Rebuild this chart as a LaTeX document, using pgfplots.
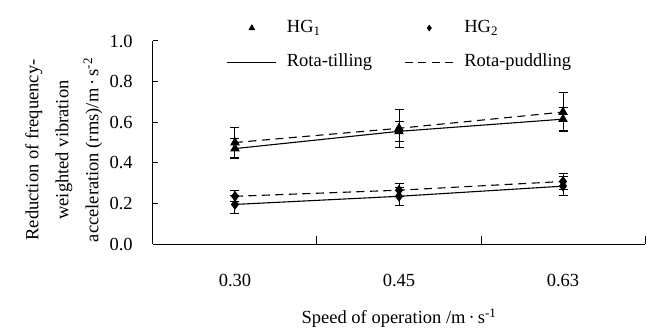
\documentclass[border=0pt]{standalone}
\usepackage{fontspec}
\setmainfont{Liberation Serif}
\usepackage{pgfplots}
\pgfplotsset{compat=1.18}
\pgfplotsset{
  markleg/.style={legend image code/.code={\path[draw=none] (0bp,0bp) -- (49bp,0bp); \draw[##1,only marks] plot coordinates {(24.5bp,0bp)};}},
  lineleg/.style={legend image code/.code={\draw[##1] (0bp,0bp) -- (49bp,0bp);}},
}
\begin{document}
\fontsize{18.5bp}{22bp}\selectfont
\begin{tikzpicture}
\begin{axis}[
  scale only axis, width=492bp, height=203bp,
  xmin=0, xmax=3, ymin=0, ymax=1,
  axis x line*=bottom, axis y line*=left,
  axis line style={black, line width=1bp},
  xtick={0.5,1.5,2.5}, xticklabels={0.30,0.45,0.63},
  minor xtick={1,2,3},
  major x tick style={draw=none},
  minor x tick style={black, line width=1bp},
  major y tick style={black, line width=1bp},
  tick align=inside,
  major tick length=5bp, minor tick length=8bp,
  ytick={0,0.2,0.4,0.6,0.8,1.0},
  /pgf/number format/assume math mode=true,
  y tick label style={/pgf/number format/fixed, /pgf/number format/fixed zerofill, /pgf/number format/precision=1, xshift=-14bp},
  x tick label style={yshift=-24bp},
  tick label style={font=\fontsize{18.5bp}{22bp}\selectfont},
  xlabel={Speed of operation /m\,·\,s\textsuperscript{-1}},
  xlabel style={at={(axis description cs:0.5,-0.3645)}, anchor=center, font=\fontsize{18.5bp}{22bp}\selectfont},
  ylabel={Reduction of frequency-\\weighted vibration\\acceleration (rms)/m\,·\,s\textsuperscript{-2}},
  ylabel style={at={(axis description cs:-0.181,0.463)}, anchor=center, align=center, font=\fontsize{18.5bp}{30bp}\selectfont},
  legend columns=2,
  legend style={at={(axis description cs:0.5,0.98)}, anchor=center, draw=none, fill=none, inner sep=0pt,
    column sep=10bp, row sep=19bp, font=\fontsize{18.5bp}{22bp}\selectfont,
    nodes={inner sep=0pt, text height=12bp, text depth=3bp}},
  legend cell align=left,
]
\addlegendimage{black, mark=triangle*, mark size=3.5bp, markleg}
\addlegendentry{HG\textsubscript{1}}
\addlegendimage{black, mark=diamond*, mark size=3bp, markleg}
\addlegendentry{HG\textsubscript{2}}
\addlegendimage{black, line width=1.1bp, lineleg}
\addlegendentry{Rota-tilling\rule{22bp}{0pt}}
\addlegendimage{black, line width=1.1bp, dash pattern=on 8bp off 5.5bp, lineleg}
\addlegendentry{Rota-puddling}

% HG1 Rota-tilling
\addplot[forget plot, black, line width=1.1bp, mark=triangle*, mark size=4.5bp, mark options={solid},
  error bars/.cd, y dir=both, y explicit, error bar style={line width=1bp, solid},
  error mark options={rotate=90, mark size=4.5bp, line width=1bp, solid}]
  coordinates {(0.5,0.47) +- (0,0.05) (1.5,0.555) +- (0,0.05) (2.5,0.615) +- (0,0.057)};
% HG1 Rota-puddling
\addplot[forget plot, black, line width=1.1bp, dash pattern=on 8bp off 5.5bp, mark=triangle*, mark size=4.5bp, mark options={solid},
  error bars/.cd, y dir=both, y explicit, error bar style={line width=1bp, solid},
  error mark options={rotate=90, mark size=4.5bp, line width=1bp, solid}]
  coordinates {(0.5,0.50) +- (0,0.075) (1.5,0.57) +- (0,0.093) (2.5,0.65) +- (0,0.095)};
% HG2 Rota-tilling
\addplot[forget plot, black, line width=1.1bp, mark=diamond*, mark size=4.5bp, mark options={solid},
  error bars/.cd, y dir=both, y explicit, error bar style={line width=1bp, solid},
  error mark options={rotate=90, mark size=4.5bp, line width=1bp, solid}]
  coordinates {(0.5,0.195) +- (0,0.045) (1.5,0.235) +- (0,0.045) (2.5,0.285) +- (0,0.047)};
% HG2 Rota-puddling
\addplot[forget plot, black, line width=1.1bp, dash pattern=on 8bp off 5.5bp, mark=diamond*, mark size=4.5bp, mark options={solid},
  error bars/.cd, y dir=both, y explicit, error bar style={line width=1bp, solid},
  error mark options={rotate=90, mark size=4.5bp, line width=1bp, solid}]
  coordinates {(0.5,0.235) +- (0,0.027) (1.5,0.265) +- (0,0.031) (2.5,0.308) +- (0,0.04)};
\coordinate (O) at (rel axis cs:0,0);
\end{axis}
\pgfresetboundingbox
\path[use as bounding box] (O) ++(-153bp,-85bp) rectangle ++(654bp,329bp);
\end{tikzpicture}
\end{document}
